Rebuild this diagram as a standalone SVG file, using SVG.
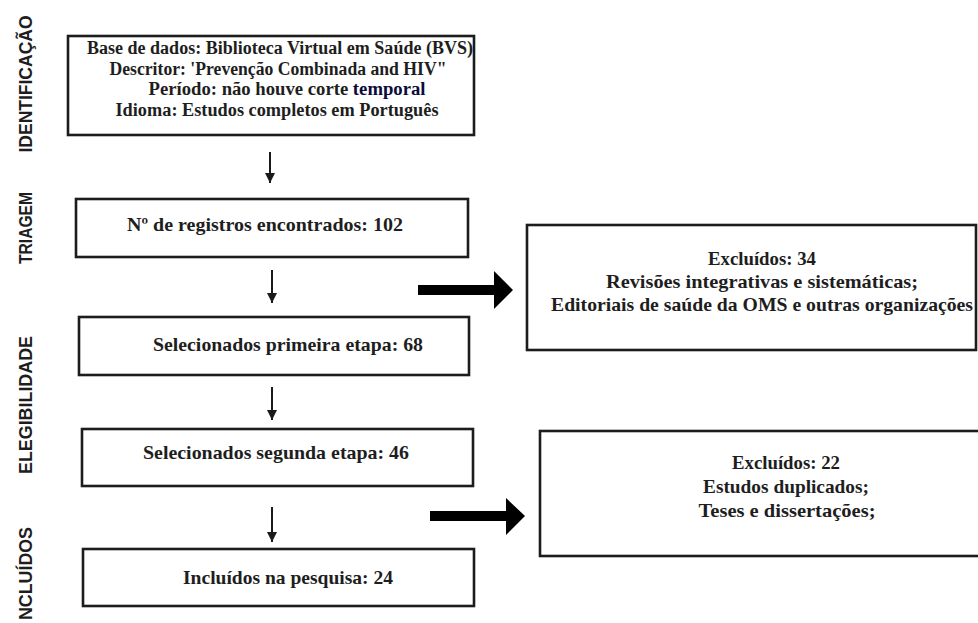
<svg xmlns="http://www.w3.org/2000/svg" width="978" height="623" viewBox="0 0 978 623">
<defs>
<style>
.box{fill:#ffffff;stroke:#1c1c1c;stroke-width:2.6}
.t{font-family:"Liberation Serif","Times New Roman",serif;font-weight:bold;font-size:19px;fill:#1e1e1e;text-anchor:middle}
.s18{font-size:18px}
.s20{font-size:20px}
.lab{font-family:"Liberation Sans",Arial,sans-serif;font-weight:bold;font-size:19px;fill:#1e1e1e}
.thin{stroke:#1a1a1a;stroke-width:2;fill:none}
.big{fill:#000000}
</style>
<marker id="ah" viewBox="0 0 10 10" refX="10" refY="5" markerWidth="5" markerHeight="5" markerUnits="strokeWidth" orient="auto">
<path d="M0,0 L10,5 L0,10 z" fill="#1a1a1a"/>
</marker>
</defs>
<rect width="978" height="623" fill="#ffffff"/>

<g id="labels">
<text class="lab" transform="translate(32,84) rotate(-90)" text-anchor="middle" textLength="137" lengthAdjust="spacingAndGlyphs">IDENTIFICAÇÃO</text>
<text class="lab" transform="translate(32,228) rotate(-90)" text-anchor="middle" textLength="72" lengthAdjust="spacingAndGlyphs">TRIAGEM</text>
<text class="lab" transform="translate(32,405) rotate(-90)" text-anchor="middle" textLength="138" lengthAdjust="spacingAndGlyphs">ELEGIBILIDADE</text>
<text class="lab" transform="translate(32,620) rotate(-90)" text-anchor="start" textLength="93" lengthAdjust="spacingAndGlyphs">NCLUÍDOS</text>
</g>

<g id="n-identificacao">
<rect class="box" x="68" y="36" width="406" height="99"/>
<text class="t s18" x="280" y="54" textLength="386" lengthAdjust="spacingAndGlyphs">Base de dados: Biblioteca Virtual em Saúde (BVS)</text>
<text class="t s18" x="278" y="75" textLength="337" lengthAdjust="spacingAndGlyphs">Descritor: 'Prevenção Combinada and HIV"</text>
<text class="t s18" x="287" y="95" textLength="277" lengthAdjust="spacingAndGlyphs">Período: não houve corte <tspan fill="#0b0b3c">temporal</tspan></text>
<text class="t s18" x="277" y="116" textLength="323" lengthAdjust="spacingAndGlyphs">Idioma: Estudos completos em Português</text>
</g>

<g id="n-triagem">
<rect class="box" x="76" y="199" width="392" height="58"/>
<text class="t" x="265" y="231" textLength="276" lengthAdjust="spacingAndGlyphs">Nº de registros encontrados: 102</text>
</g>

<g id="n-primeira">
<rect class="box" x="79" y="317" width="390" height="58"/>
<text class="t" x="288" y="351" textLength="270" lengthAdjust="spacingAndGlyphs">Selecionados primeira etapa: 68</text>
</g>

<g id="n-segunda">
<rect class="box" x="82" y="429" width="391" height="57"/>
<text class="t" x="276" y="459" textLength="266" lengthAdjust="spacingAndGlyphs">Selecionados segunda etapa: 46</text>
</g>

<g id="n-incluidos">
<rect class="box" x="83" y="549" width="391" height="57"/>
<text class="t" x="288" y="584" textLength="210" lengthAdjust="spacingAndGlyphs">Incluídos na pesquisa: 24</text>
</g>

<g id="n-excluidos34">
<rect class="box" x="527" y="225" width="449" height="125"/>
<text class="t" x="762" y="265" textLength="108" lengthAdjust="spacingAndGlyphs">Excluídos: 34</text>
<text class="t" x="762" y="288" textLength="312" lengthAdjust="spacingAndGlyphs">Revisões integrativas e sistemáticas;</text>
<text class="t" x="762" y="311" textLength="422" lengthAdjust="spacingAndGlyphs">Editoriais de saúde da OMS e outras organizações</text>
</g>

<g id="n-excluidos22">
<rect class="box" x="540" y="431" width="445" height="125"/>
<text class="t" x="786" y="469" textLength="108" lengthAdjust="spacingAndGlyphs">Excluídos: 22</text>
<text class="t" x="786" y="493" textLength="166" lengthAdjust="spacingAndGlyphs">Estudos duplicados;</text>
<text class="t" x="787" y="517" textLength="177" lengthAdjust="spacingAndGlyphs">Teses e dissertações;</text>
</g>

<g id="connectors">
<line class="thin" x1="270" y1="152" x2="270" y2="183" marker-end="url(#ah)"/>
<line class="thin" x1="272" y1="270" x2="272" y2="303" marker-end="url(#ah)"/>
<line class="thin" x1="272" y1="387" x2="272" y2="420" marker-end="url(#ah)"/>
<line class="thin" x1="272" y1="507" x2="272" y2="542" marker-end="url(#ah)"/>
<path class="big" d="M418,285 L494,285 L494,271 L513,290 L494,309 L494,295 L418,295 z"/>
<path class="big" d="M430,511 L506,511 L506,498 L525,516 L506,535 L506,521 L430,521 z"/>
</g>
</svg>
